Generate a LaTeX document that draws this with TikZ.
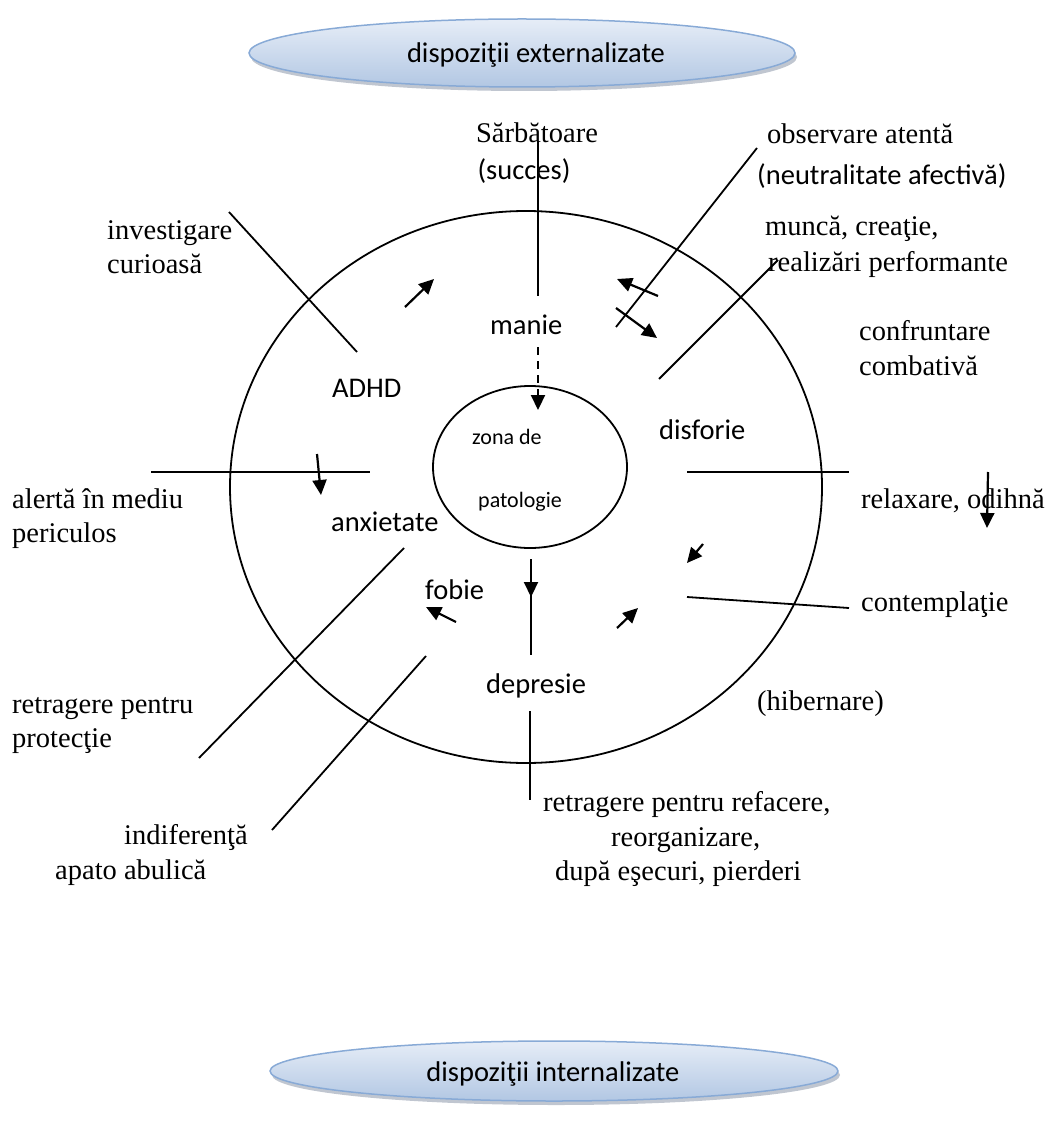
\documentclass[tikz,border=0pt]{standalone}
\usepackage{fontspec}
\setmainfont{Liberation Serif}
\newfontfamily\calibri{Carlito}
\usetikzlibrary{arrows.meta}

\definecolor{ovaltop}{RGB}{230,237,247}
\definecolor{ovalbot}{RGB}{178,199,227}
\definecolor{ovaledge}{RGB}{136,170,214}
\definecolor{ovalshadow}{RGB}{140,152,170}

\begin{document}
\begin{tikzpicture}[x=1pt,y=-1pt,
  serif/.style={font=\fontsize{28.5}{34}\selectfont, inner sep=0pt, anchor=base west},
  sans/.style={font=\calibri\fontsize{28.5}{34}\selectfont, inner sep=0pt, anchor=base west},
  sanssmall/.style={font=\calibri\fontsize{22}{26}\selectfont, inner sep=0pt, anchor=base west},
  ln/.style={line width=1.8pt},
  arr/.style={line width=2.2pt, -{Triangle[length=15pt,width=14pt]}},
]
\useasboundingbox (0,0) rectangle (1051,1131);

% shaded ovals for the two groups of dispositions
\fill[ovalshadow, opacity=0.55] (524,57) ellipse [x radius=273, y radius=34];
\shade[top color=ovaltop, bottom color=ovalbot] (522,53) ellipse [x radius=273, y radius=34];
\draw[ovaledge, line width=1.5pt] (522,53) ellipse [x radius=273, y radius=34];
\node[sans, anchor=base] (ext) at (536,63) {dispoziţii externalizate};

\fill[ovalshadow, opacity=0.55] (556,1075) ellipse [x radius=284, y radius=30];
\shade[top color=ovaltop, bottom color=ovalbot] (554,1071) ellipse [x radius=284, y radius=30];
\draw[ovaledge, line width=1.5pt] (554,1071) ellipse [x radius=284, y radius=30];
\node[sans, anchor=base] (int) at (553,1081) {dispoziţii internalizate};

% outer ring and pathology zone
\draw[ln] (526,487) ellipse [x radius=296, y radius=276];
\draw[ln] (530,467) ellipse [x radius=97, y radius=81];
\node[sanssmall] (zona) at (472,444) {zona de};
\node[sanssmall] (pat) at (478,507) {patologie};

% states inside the ring
\node[sans] (manie) at (490,334) {manie};
\node[sans] (adhd) at (332,397) {ADHD};
\node[sans] (disf) at (659,439) {disforie};
\node[sans] (anx) at (331,531) {anxietate};
\node[sans] (fob) at (425,599) {fobie};
\node[sans] (depr) at (486,693) {depresie};

% normal dispositions around the ring
\node[serif, anchor=base] (sarb) at (537,143) {Sărbătoare};
\node[sans, anchor=base] (succ) at (524,180) {(succes)};
\node[serif] (obs) at (767,144) {observare atentă};
\node[sans] (neut) at (757,185) {(neutralitate afectivă)};
\node[serif] (munca) at (765,236) {muncă, creaţie,};
\node[serif] (realiz) at (768,272) {realizări performante};
\node[serif] (confr) at (859,340) {confruntare};
\node[serif] (comb) at (859,375) {combativă};
\node[serif] (relax) at (861,508) {relaxare, odihnă};
\node[serif] (contem) at (861,611) {contemplaţie};
\node[serif] (hib) at (757,710) {(hibernare)};
\node[serif] (inv) at (107,240) {investigare};
\node[serif] (cur) at (107,274) {curioasă};
\node[serif] (alert) at (12,508) {alertă în mediu};
\node[serif] (peric) at (12,542) {periculos};
\node[serif] (retr) at (12,713) {retragere pentru};
\node[serif] (prot) at (12,747) {protecţie};
\node[serif] (indif) at (124,844) {indiferenţă};
\node[serif] (apato) at (55,879) {apato abulică};
\node[serif] (refac) at (543,811) {retragere pentru refacere,};
\node[serif] (reorg) at (611,846) {reorganizare,};
\node[serif] (esec) at (555,880) {după eşecuri, pierderi};

% end points of the dividing lines and arrows
\coordinate (sA) at (538,141);  \coordinate (sB) at (538,296);
\coordinate (dA) at (538,347);  \coordinate (dB) at (538,410);
\coordinate (oA) at (757,148);  \coordinate (oB) at (616,327);
\coordinate (o1a) at (658,296); \coordinate (o1b) at (617,279);
\coordinate (o2a) at (616,308); \coordinate (o2b) at (657,338);
\coordinate (mA) at (778,260);  \coordinate (mB) at (659,379);
\coordinate (iA) at (229,212);  \coordinate (iB) at (357,352);
\coordinate (aA) at (405,307);  \coordinate (aB) at (434,279);
\coordinate (lA) at (151,472);  \coordinate (lB) at (370,472);
\coordinate (laA) at (317,454); \coordinate (laB) at (321,495);
\coordinate (rA) at (687,472);  \coordinate (rB) at (849,472);
\coordinate (raA) at (988,472); \coordinate (raB) at (987,528);
\coordinate (fdA) at (703,544); \coordinate (fdB) at (687,563);
\coordinate (cA) at (687,597);  \coordinate (cB) at (849,608);
\coordinate (crA) at (617,628); \coordinate (crB) at (638,608);
\coordinate (vA) at (531,559);  \coordinate (vB) at (531,655);
\coordinate (vaA) at (531,570); \coordinate (vaB) at (531,597);
\coordinate (pA) at (530,711);  \coordinate (pB) at (530,800);
\coordinate (fA) at (456,622);  \coordinate (fB) at (426,607);
\coordinate (xA) at (404,548);  \coordinate (xB) at (199,758);
\coordinate (nA) at (426,656);  \coordinate (nB) at (272,830);

\draw[ln] (sA) -- (sB);
\draw[arr, dash pattern=on 8pt off 6pt] (dA) -- (dB);
\draw[ln] (oA) -- (oB);
\draw[arr] (o1a) -- (o1b);
\draw[arr] (o2a) -- (o2b);
\draw[ln] (mA) -- (mB);
\draw[ln] (iA) -- (iB);
\draw[arr] (aA) -- (aB);
\draw[ln] (lA) -- (lB);
\draw[arr] (laA) -- (laB);
\draw[ln] (rA) -- (rB);
\draw[arr] (raA) -- (raB);
\draw[arr] (fdA) -- (fdB);
\draw[ln] (cA) -- (cB);
\draw[arr] (crA) -- (crB);
\draw[ln] (vA) -- (vB);
\draw[arr] (vaA) -- (vaB);
\draw[ln] (pA) -- (pB);
\draw[arr] (fA) -- (fB);
\draw[ln] (xA) -- (xB);
\draw[ln] (nA) -- (nB);
\end{tikzpicture}
\end{document}
